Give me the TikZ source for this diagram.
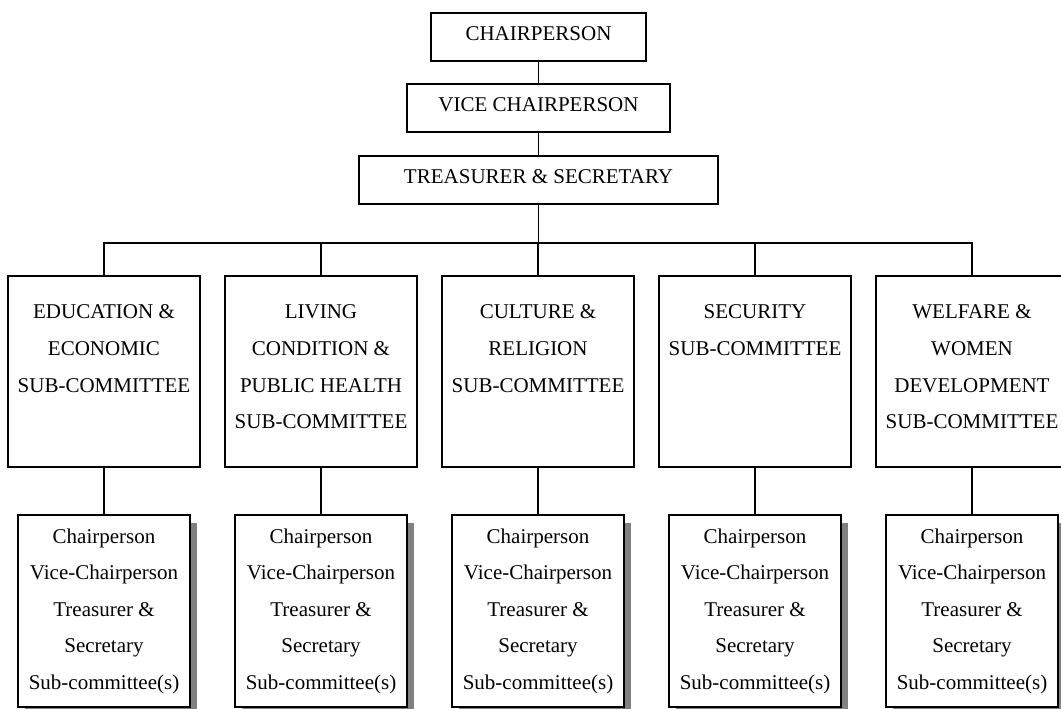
\documentclass[tikz,border=0pt]{standalone}
\usepackage{fontspec}
\setmainfont{Liberation Serif}
\usetikzlibrary{shadows}
\begin{document}
\begin{tikzpicture}[x=0.75pt,y=-0.75pt,
  line width=1.3pt,
  every node/.style={font=\fontsize{15.75}{27.4}\selectfont},
  topbox/.style={draw, minimum height=36pt, inner sep=0pt, text height=10.5pt, text depth=5.25pt},
  bigbox/.style={draw, minimum width=144pt, minimum height=143.25pt, inner sep=0pt},
  smallbox/.style={draw, fill=white, minimum width=129pt, minimum height=144pt, inner sep=0pt,
    drop shadow={shadow xshift=5pt, shadow yshift=-6pt, fill=black!50, opacity=1}},
  boxtext/.style={align=center, anchor=north, inner sep=0pt},
  conn/.style={draw, line width=1.3pt}]
\useasboundingbox (0,0) rectangle (1061,709);
\clip (0,0) rectangle (1061,709);

% top chain
\node[topbox, minimum width=161.25pt] (chair) at (538.5,37) {CHAIRPERSON};
\node[topbox, minimum width=197.25pt] (vice) at (538.5,108) {VICE CHAIRPERSON};
\node[topbox, minimum width=269.25pt] (treas) at (538.5,180) {TREASURER \& SECRETARY};
\coordinate (bar) at (538.5,243);

% sub-committee boxes
\node[bigbox] (b1) at (104,371.5) {};
\node[bigbox] (b2) at (321,371.5) {};
\node[bigbox] (b3) at (538,371.5) {};
\node[bigbox] (b4) at (755,371.5) {};
\node[bigbox] (b5) at (972,371.5) {};

\node[boxtext] (t1) at ([yshift=-13.07pt]b1.north) {\strut EDUCATION \&\\ECONOMIC\\SUB-COMMITTEE};
\node[boxtext] (t2) at ([yshift=-13.07pt]b2.north) {\strut LIVING\\CONDITION \&\\PUBLIC HEALTH\\SUB-COMMITTEE};
\node[boxtext] (t3) at ([yshift=-13.07pt]b3.north) {\strut CULTURE \&\\RELIGION\\SUB-COMMITTEE};
\node[boxtext] (t4) at ([yshift=-13.07pt]b4.north) {\strut SECURITY\\SUB-COMMITTEE};
\node[boxtext] (t5) at ([yshift=-13.07pt]b5.north) {\strut WELFARE \&\\WOMEN\\DEVELOPMENT\\SUB-COMMITTEE};

% connectors
\draw[conn] (chair) -- (vice);
\draw[conn] (vice) -- (treas);
\draw[conn] (treas.south) -- (bar);
\draw[conn] (b1.north) -- (b1.north |- bar) -- (b5.north |- bar) -- (b5.north);
\draw[conn] (b2.north) -- (b2.north |- bar);
\draw[conn] (b3.north) -- (b3.north |- bar);
\draw[conn] (b4.north) -- (b4.north |- bar);

% member boxes
\foreach \i/\x in {1/104,2/321,3/538,4/755,5/972}{
  \draw[conn] (b\i.south) -- (\x,515);
  \node[smallbox] (s\i) at (\x,611) {};
  \node[boxtext] (m\i) at ([yshift=-1.82pt]s\i.north) {\strut Chairperson\\Vice-Chairperson\\Treasurer \&\\Secretary\\Sub-committee(s)};
}
\end{tikzpicture}
\end{document}
